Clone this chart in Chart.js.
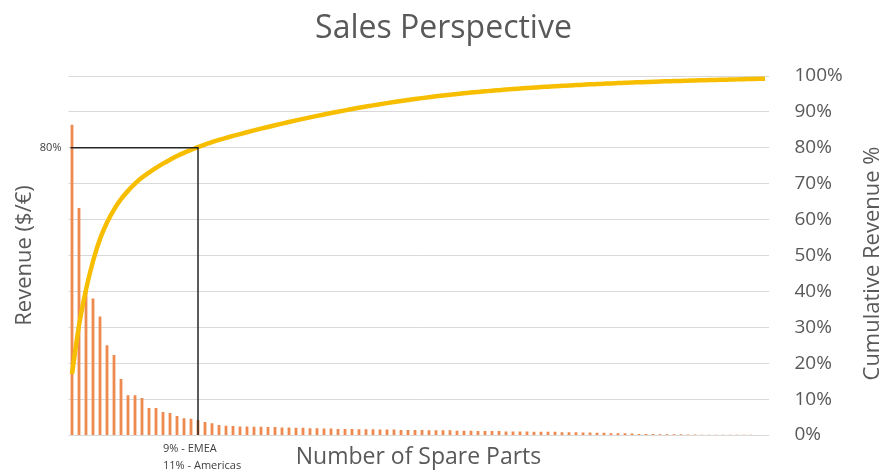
<!DOCTYPE html>
<html lang="en">
<head>
    <meta charset="UTF-8">
    <title>Sales Perspective</title>
    <script src="https://cdn.jsdelivr.net/npm/chart.js@4.4.1/dist/chart.umd.min.js"></script>
    <style>
        html, body {
            margin: 0;
            padding: 0;
            background: #fff;
        }

        #wrap {
            width: 887px;
            height: 475px;
        }
    </style>
</head>
<body>
    <div id="wrap">
        <canvas id="myChart" width="887" height="475"></canvas>
    </div>

    <script>
        // revenue per spare part, in units of the left axis (0-100), sorted high to low
        const revenue = [
            86.4, 63.2, 41, 38, 33, 25, 22.3, 15.6, 11.1, 11.1,
            10.3, 7.5, 7.5, 6.4, 6.1, 5.3, 4.7, 4.5, 4.2, 3.6,
            3.3, 2.8, 2.6, 2.5, 2.4, 2.4, 2.3, 2.3, 2.2, 2.2,
            2.1, 2.1, 2.0, 2.0, 1.9, 1.9, 1.8, 1.8, 1.7, 1.7,
            1.7, 1.6, 1.6, 1.6, 1.5, 1.5, 1.5, 1.4, 1.4, 1.4,
            1.4, 1.3, 1.3, 1.3, 1.3, 1.2, 1.2, 1.2, 1.1, 1.1,
            1.1, 1.1, 1.0, 1.0, 1.0, 1.0, 0.9, 0.9, 0.9, 0.9,
            0.8, 0.8, 0.8, 0.7, 0.7, 0.6, 0.6, 0.5, 0.5, 0.5,
            0.4, 0.3, 0.3, 0.3, 0.2, 0.2, 0.2, 0.2, 0.15, 0.15,
            0.1, 0.1, 0.1, 0.08, 0.08, 0.05, 0.05, 0.05, 0.03, 0.03
        ];

        // cumulative revenue share in %
        const cumulative = [
            17, 30.5, 40.5, 48.4, 54.6, 59.2, 62.8, 65.7, 68.0, 70.0,
            71.7, 73.1, 74.4, 75.6, 76.7, 77.7, 78.6, 79.4, 80.2, 80.9,
            81.6, 82.2, 82.75, 83.3, 83.83, 84.34, 84.84, 85.33, 85.81, 86.28,
            86.74, 87.19, 87.63, 88.06, 88.48, 88.89, 89.29, 89.68, 90.06, 90.43,
            90.79, 91.14, 91.48, 91.81, 92.13, 92.44, 92.74, 93.03, 93.31, 93.58,
            93.84, 94.09, 94.33, 94.56, 94.78, 94.99, 95.19, 95.38, 95.56, 95.73,
            95.9, 96.06, 96.22, 96.37, 96.51, 96.65, 96.78, 96.91, 97.03, 97.15,
            97.26, 97.37, 97.47, 97.57, 97.67, 97.76, 97.85, 97.94, 98.02, 98.1,
            98.18, 98.25, 98.32, 98.39, 98.46, 98.52, 98.58, 98.64, 98.7, 98.76,
            98.81, 98.86, 98.91, 98.96, 99.01, 99.06, 99.11, 99.16, 99.21, 99.26
        ];

        const parts = revenue.map((v, i) => 'Part ' + (i + 1));

        // the 80% marker
        const markerIndex = 18;
        const markerPct = 80;
        const markerLabel = '80%';
        const regionNotes = ['9% - EMEA', '11% - Americas'];
        const rightTitle = 'Cumulative Revenue %';

        const grey = '#595959';
        const font = 'Open Sans';

        const markerPlugin = {
            id: 'marker',
            afterDatasetsDraw(chart)
            {
                const { ctx, chartArea } = chart;
                const x = chart.scales.x.getPixelForValue(markerIndex);
                const y = chart.scales.y1.getPixelForValue(markerPct);

                ctx.save();
                ctx.strokeStyle = '#262626';
                ctx.lineWidth = 1.5;
                ctx.beginPath();
                ctx.moveTo(chartArea.left + 2, y);
                ctx.lineTo(x, y);
                ctx.lineTo(x, chartArea.bottom);
                ctx.stroke();

                ctx.fillStyle = '#404040';
                ctx.font = '11px "' + font + '"';
                ctx.textBaseline = 'middle';
                ctx.textAlign = 'right';
                ctx.fillText(markerLabel, chartArea.left - 7, y);

                ctx.textAlign = 'left';
                ctx.fillText(regionNotes[0], x - 35, chartArea.bottom + 14);
                ctx.fillText(regionNotes[1], x - 35, chartArea.bottom + 31);

                // right axis title reads bottom to top
                ctx.translate(chart.width - 14, (chartArea.top + chartArea.bottom) / 2 + 8);
                ctx.rotate(-Math.PI / 2);
                ctx.textAlign = 'center';
                ctx.fillStyle = grey;
                ctx.font = '22px "' + font + '"';
                ctx.fillText(rightTitle, 0, 0);
                ctx.restore();
            }
        };

        const ctx = document.getElementById('myChart').getContext('2d');

        new Chart(ctx, {
            type: 'bar',
            data: {
                labels: parts,
                datasets: [
                    {
                        type: 'line',
                        label: 'Cumulative Revenue %',
                        data: cumulative,
                        yAxisID: 'y1',
                        borderColor: '#F7BE00',
                        borderWidth: 4.5,
                        pointRadius: 0,
                        cubicInterpolationMode: 'monotone',
                        order: 0
                    },
                    {
                        label: 'Revenue',
                        data: revenue,
                        yAxisID: 'y',
                        backgroundColor: '#EE8A4F',
                        barPercentage: 0.4,
                        categoryPercentage: 1,
                        order: 1
                    }
                ]
            },
            options: {
                responsive: false,
                animation: false,
                layout: { padding: 0 },
                plugins: {
                    legend: { display: false },
                    tooltip: { enabled: false },
                    title: {
                        display: true,
                        text: 'Sales Perspective',
                        color: grey,
                        font: { family: font, size: 32, weight: 'normal', lineHeight: 1.2 },
                        padding: { top: 10, bottom: 27.6 }
                    }
                },
                scales: {
                    x: {
                        grid: { display: false },
                        border: { display: false },
                        ticks: { display: false },
                        title: {
                            display: true,
                            text: 'Number of Spare Parts',
                            color: grey,
                            font: { family: font, size: 23 },
                            padding: { top: 0, bottom: 4 }
                        },
                        afterFit(scale) { scale.height = 40; }
                    },
                    y: {
                        position: 'left',
                        min: 0,
                        max: 100,
                        grid: { display: false },
                        border: { display: false },
                        ticks: { display: false },
                        title: {
                            display: true,
                            text: 'Revenue ($/€)',
                            color: grey,
                            font: { family: font, size: 22 },
                            padding: { top: 12, bottom: 0 }
                        },
                        afterFit(scale) { scale.width = 68.5; }
                    },
                    y1: {
                        position: 'right',
                        min: 0,
                        max: 100,
                        grid: { color: '#D9D9D9', lineWidth: 1, drawTicks: false },
                        border: { display: false },
                        ticks: {
                            stepSize: 10,
                            padding: 26,
                            color: grey,
                            font: { family: font, size: 19 },
                            callback: (v) => v + '%'
                        },
                        afterFit(scale) { scale.width = 118.5; }
                    }
                }
            },
            plugins: [markerPlugin]
        });
    </script>
</body>
</html>
